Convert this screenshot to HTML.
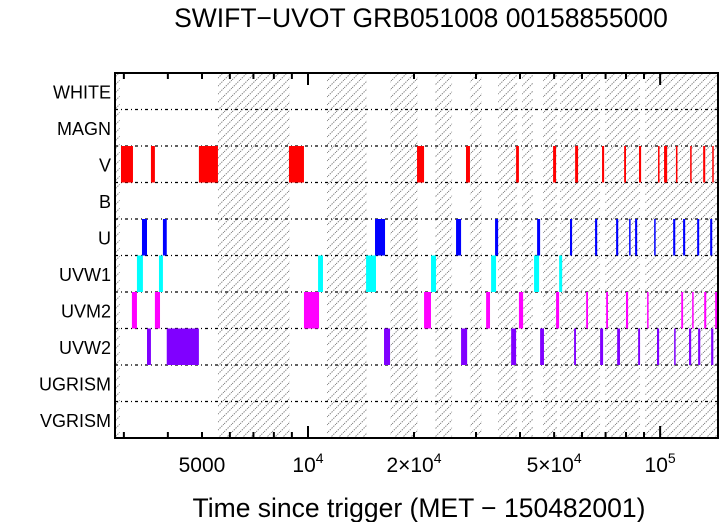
<!DOCTYPE html>
<html><head><meta charset="utf-8"><style>
body{margin:0;background:#fff;}
svg{display:block;font-family:"Liberation Sans",sans-serif;}
</style></head><body>
<svg id="chart" width="721" height="522" viewBox="0 0 721 522" xmlns="http://www.w3.org/2000/svg">
<defs>
<pattern id="hatch" patternUnits="userSpaceOnUse" width="8" height="8">
<line x1="0" y1="8" x2="8" y2="0" stroke="#8a8a8a" stroke-width="1" stroke-dasharray="1.5,1"/>
</pattern>
<clipPath id="plotclip"><rect x="115" y="73" width="603" height="365"/></clipPath>
</defs>
<text x="421" y="27" font-size="26.5" text-anchor="middle">SWIFT−UVOT GRB051008 00158855000</text>
<g id="hatches" clip-path="url(#plotclip)"></g>
<g id="grid"></g>
<g id="bars" clip-path="url(#plotclip)"></g>
<g id="ticks"></g>
<g id="ylabels"></g>
<rect x="115" y="73" width="603" height="365" fill="none" stroke="#000" stroke-width="2"/>
<text x="419" y="517" font-size="26.5" text-anchor="middle">Time since trigger (MET − 150482001)</text>
</svg>
<script>
const filters = ["WHITE","MAGN","V","B","U","UVW1","UVM2","UVW2","UGRISM","VGRISM"];
const filterColors = {V:"#ff0000",U:"#0000ff",UVW1:"#00ffff",UVM2:"#ff00ff",UVW2:"#8000ff"};
const hatchIntervals = [[2831,2920],[5550,8890],[11320,14710],[17100,20530],[22950,25650],[28840,31200],[34670,39260],[40550,43550],[46530,50960],[52000,67530],[69800,87700],[90670,150000]];
const barsV = [[2944,3184],[3581,3675],[4900,5550],[8830,9740],[20400,21360],[28100,28840],[38990,39720],[49660,50640],[57360,58480],[68400,69340],[79030,80000],[87100,88300],[98640,99340],[102600,104700],[110900,111700],[121700,122500],[132500,134300],[140600,141600]];
const barsU = [[3377,3490],[3873,3971],[15500,16550],[26330,27210],[33980,34670],[44730,45620],[55470,56230],[65350,66260],[74990,76030],[81640,82170],[84900,86060],[96170,96820],[108900,110400],[116200,117800],[127400,129100],[138700,140600]];
const barsUVW1 = [[3268,3398],[3774,3873],[10680,11030],[14620,15600],[22350,23100],[33110,34200],[43850,45320],[51660,52700]];
const barsUVM2 = [[3162,3268],[3675,3800],[9740,10750],[21360,22350],[32050,32880],[39720,40820],[50640,51660],[61650,62400],[70260,71120],[80000,81100],[91830,92470],[114800,116200],[123300,124100],[133400,135200],[143300,145100]];
const barsUVW2 = [[3490,3581],[3971,4900],[16440,17100],[27210,28310],[37750,38990],[45620,46790],[56970,57680],[67530,68870],[75500,76910],[86600,87700],[97980,99340],[109600,110400],[120800,122500],[128200,130000],[139600,141600]];
const majorTicks = [10000,100000];
const minorTicks = [3000,4000,5000,6000,7000,8000,9000,20000,30000,40000,50000,60000,70000,80000,90000];
const tickLabels = [[5000,"5000"],[10000,"10^4"],[20000,"2×10^4"],[50000,"5×10^4"],[100000,"10^5"]];

const NS="http://www.w3.org/2000/svg";
const X0=115,X1=718,Y0=73,Y1=438;
const LMIN=Math.log10(2831),LMAX=Math.log10(146000);
function xs(t){return X0+(Math.log10(t)-LMIN)/(LMAX-LMIN)*(X1-X0);}
const rowH=(Y1-Y0)/filters.length;
function ys(i){return Y0+i*rowH;}
function mk(tag,attrs,parent){const e=document.createElementNS(NS,tag);for(const k in attrs)e.setAttribute(k,attrs[k]);parent.appendChild(e);return e;}

const gH=document.getElementById("hatches");
hatchIntervals.forEach(h=>{
  const r=mk("rect",{x:xs(h[0]),y:Y0,width:Math.max(0,xs(h[1])-xs(h[0])),height:Y1-Y0,fill:"url(#hatch)"},gH);
  
  
});
const gG=document.getElementById("grid");
for(let i=1;i<filters.length;i++){
  const l=mk("line",{x1:X0,x2:X1,y1:ys(i),y2:ys(i),stroke:"#000","stroke-width":1.3,"stroke-dasharray":"3,3,1,3"},gG);
  
  
}
const gB=document.getElementById("bars");
const series={V:barsV,U:barsU,UVW1:barsUVW1,UVM2:barsUVM2,UVW2:barsUVW2};
for(const f in series){
  const i=filters.indexOf(f);
  series[f].forEach(b=>{
    const x=xs(b[0]),w=Math.max(1.5,xs(b[1])-x);
    const r=mk("rect",{x:x,y:ys(i),width:w,height:rowH,fill:filterColors[f]},gB);
    
    
  });
}
const gT=document.getElementById("ticks");
function tick(t,len){
  const x=xs(t);
  const a=mk("line",{x1:x,x2:x,y1:Y0,y2:Y0+len,stroke:"#000","stroke-width":2},gT);
  
  
  const b=mk("line",{x1:x,x2:x,y1:Y1,y2:Y1-len,stroke:"#000","stroke-width":2},gT);
  
  
}
majorTicks.forEach(t=>tick(t,12));
minorTicks.forEach(t=>tick(t,6));
tickLabels.forEach(tl=>{
  const tx=mk("text",{x:xs(tl[0]),y:472,"font-size":21,"text-anchor":"middle"},gT);
  
  
  const s=tl[1];
  if(s.indexOf("^")>=0){
    const p=s.split("^");
    const t1=document.createElementNS(NS,"tspan");t1.textContent=p[0];tx.appendChild(t1);
    const t2=document.createElementNS(NS,"tspan");t2.setAttribute("dy","-9");t2.setAttribute("font-size","14");t2.textContent=p[1];tx.appendChild(t2);
  } else tx.textContent=s;
});
const gY=document.getElementById("ylabels");
filters.forEach((f,i)=>{
  const t=mk("text",{x:111,y:ys(i)+rowH/2+7,"font-size":18,"text-anchor":"end"},gY);
  
  
  t.textContent=f;
});
</script>
</body></html>
